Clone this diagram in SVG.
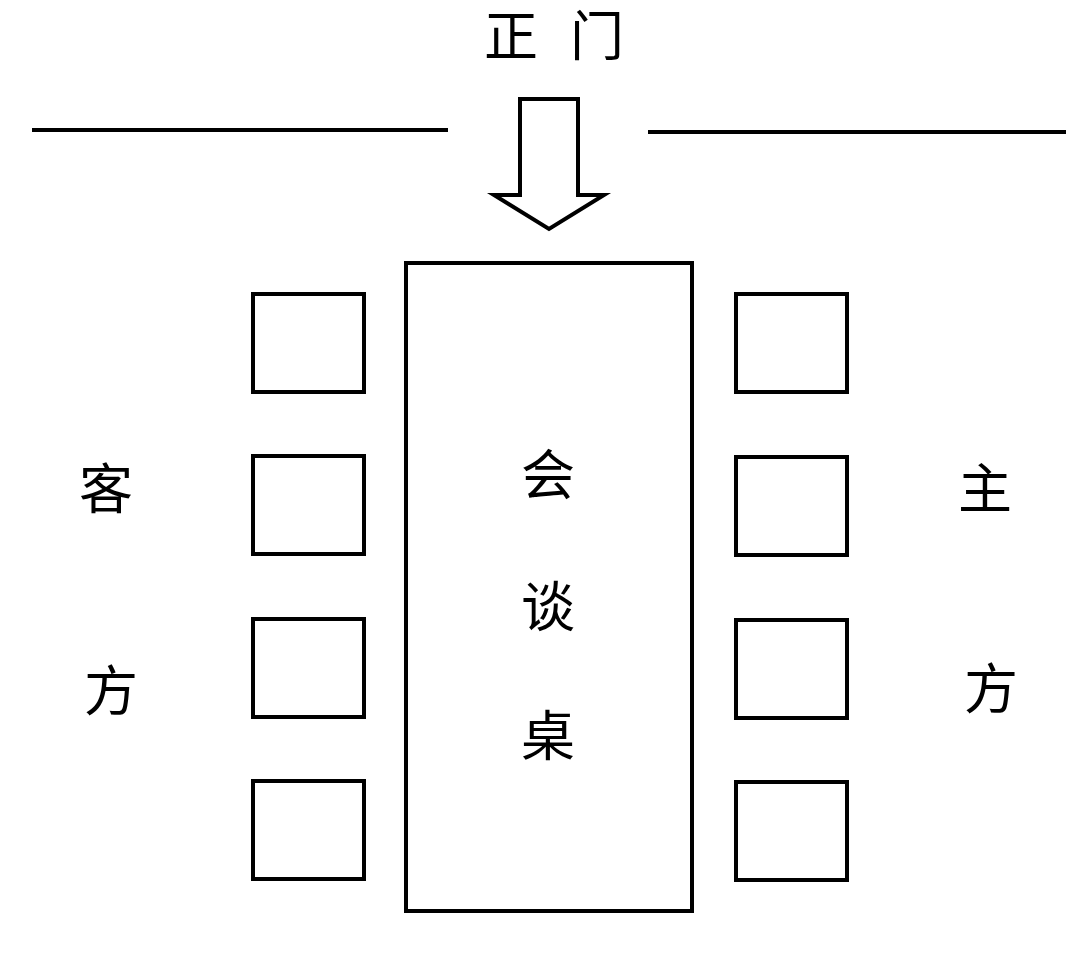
<svg xmlns="http://www.w3.org/2000/svg" width="1083" height="978" viewBox="0 0 1083 978">
<style>
.ln{stroke:#000;stroke-width:4;fill:none}
.bx{stroke:#000;stroke-width:4;fill:#fff}
.t{font-family:"Noto Sans CJK SC","Noto Sans CJK JP",sans-serif;font-size:54px;fill:#000;text-anchor:middle;dominant-baseline:central}
.h{font-family:"Liberation Sans","Noto Sans CJK SC",sans-serif;font-size:54px;fill:#000;text-anchor:middle}
</style>
<rect width="1083" height="978" fill="#fff"/>
<g id="walls">
<line class="ln" x1="32" y1="130" x2="448" y2="130"/>
<line class="ln" x1="648" y1="132" x2="1066" y2="132"/>
</g>
<g id="door">
<text class="h" x="511" y="56">正</text>
<text class="h" x="597" y="56">门</text>
<polygon class="bx" points="520,99 578,99 578,195 604,195 549,229 494,195 520,195"/>
</g>
<g id="table">
<rect class="bx" x="406" y="263" width="286" height="648"/>
<text class="t" x="548" y="471">会</text>
<text class="t" x="548" y="603">谈</text>
<text class="t" x="548" y="732">桌</text>
</g>
<g id="guest-chairs">
<rect class="bx" x="253" y="294" width="111" height="98"/>
<rect class="bx" x="253" y="456" width="111" height="98"/>
<rect class="bx" x="253" y="619" width="111" height="98"/>
<rect class="bx" x="253" y="781" width="111" height="98"/>
</g>
<g id="host-chairs">
<rect class="bx" x="736" y="294" width="111" height="98"/>
<rect class="bx" x="736" y="457" width="111" height="98"/>
<rect class="bx" x="736" y="620" width="111" height="98"/>
<rect class="bx" x="736" y="782" width="111" height="98"/>
</g>
<g id="guest-label">
<text class="t" x="106" y="485">客</text>
<text class="t" x="111" y="687">方</text>
</g>
<g id="host-label">
<text class="t" x="985" y="485">主</text>
<text class="t" x="991" y="685">方</text>
</g>
</svg>
